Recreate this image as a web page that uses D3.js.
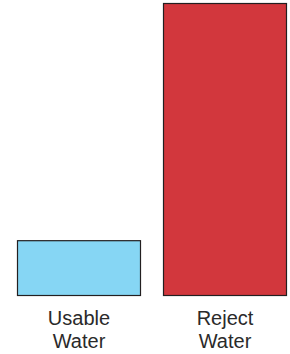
<!doctype html>
<html lang="en">
<head>
  <meta charset="UTF-8">
  <title>Water</title>
  <style type="text/css">
    body { margin: 0; background: #fff; }
    svg { display: block; }
  </style>
  <script src="https://cdn.jsdelivr.net/npm/d3@7"></script>
</head>
<body>
  <svg width="290" height="354"></svg>
  <script>
    let categories = ["Usable Water", "Reject Water"]
    let values = [16, 84]
    let colors = ["#86d6f4", "#d2373d"]

    let svg = d3.select("svg")
    let x = d3.scaleBand()
      .domain(categories)
      .range([17, 287])
      .paddingInner(0.1507)
      .paddingOuter(0)
    let y = d3.scaleLinear()
      .domain([0, 84])
      .range([296, 3])

    svg.selectAll("rect")
      .data(categories)
      .enter().append("rect")
      .attr("x", function (d) { return x(d) + 0.5 })
      .attr("y", function (d, i) { return y(values[i]) + 0.5 })
      .attr("width", x.bandwidth() - 1)
      .attr("height", function (d, i) { return y(0) - y(values[i]) - 1 })
      .attr("fill", function (d, i) { return colors[i] })
      .attr("stroke", "#231f20")
      .attr("stroke-width", 1.2)

    // two-line category labels
    let labels = svg.selectAll("text.lab")
      .data(categories)
      .enter().append("text")
      .attr("class", "lab")
      .attr("text-anchor", "middle")
      .attr("font-family", "Liberation Sans, Arial, sans-serif")
      .attr("font-size", 20)
      .attr("fill", "#2a2a2a")
    labels.selectAll("tspan")
      .data(function (d) {
        let xc = x(d) + x.bandwidth() / 2
        return d.split(" ").map(function (w) { return { w: w, xc: xc } })
      })
      .enter().append("tspan")
      .attr("x", function (d) { return d.xc })
      .attr("y", function (d, i) { return 325 + i * 23 })
      .text(function (d) { return d.w })
  </script>
</body>
</html>
